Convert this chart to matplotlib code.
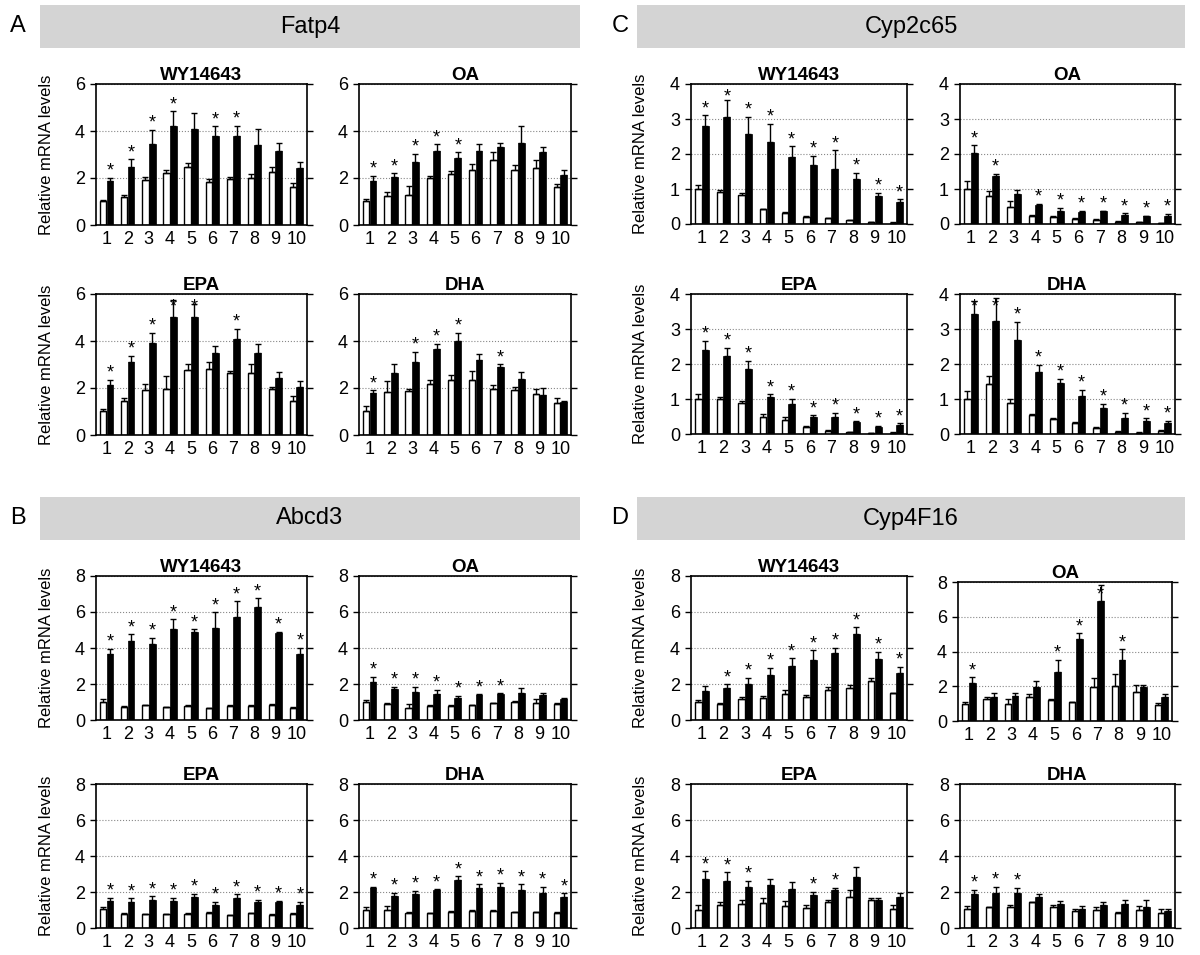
import numpy as np
import matplotlib
matplotlib.use("Agg")
from matplotlib import pyplot as plt
from matplotlib.patches import Rectangle

plt.rcParams['font.family'] = ['Liberation Sans', 'DejaVu Sans']

groups = [str(i) for i in range(1, 11)]
treatments = ["WY14643", "OA", "EPA", "DHA"]

# ---- A: Fatp4 ----
fatp4_wy_white = [1.0, 1.2, 1.9, 2.2, 2.45, 1.85, 1.95, 2.0, 2.25, 1.6]
fatp4_wy_white_err = [0.07, 0.06, 0.13, 0.12, 0.2, 0.12, 0.11, 0.16, 0.2, 0.19]
fatp4_wy_black = [1.87, 2.48, 3.46, 4.2, 4.08, 3.8, 3.77, 3.41, 3.13, 2.42]
fatp4_wy_black_err = [0.15, 0.32, 0.59, 0.64, 0.69, 0.4, 0.45, 0.67, 0.35, 0.25]
fatp4_wy_stars = [1, 2, 3, 4, 6, 7]

fatp4_oa_white = [1.0, 1.24, 1.29, 1.98, 2.19, 2.35, 2.77, 2.35, 2.42, 1.61]
fatp4_oa_white_err = [0.1, 0.15, 0.37, 0.11, 0.11, 0.24, 0.32, 0.21, 0.35, 0.14]
fatp4_oa_black = [1.88, 2.06, 2.67, 3.13, 2.87, 3.17, 3.31, 3.49, 3.1, 2.13]
fatp4_oa_black_err = [0.21, 0.14, 0.35, 0.31, 0.22, 0.27, 0.18, 0.73, 0.21, 0.22]
fatp4_oa_stars = [1, 2, 3, 4, 5]

fatp4_epa_white = [1.01, 1.43, 1.9, 1.97, 2.76, 2.79, 2.63, 2.63, 1.94, 1.43]
fatp4_epa_white_err = [0.08, 0.14, 0.29, 0.54, 0.24, 0.32, 0.11, 0.38, 0.1, 0.24]
fatp4_epa_black = [2.11, 3.09, 3.93, 5.04, 5.01, 3.49, 4.1, 3.49, 2.44, 2.05]
fatp4_epa_black_err = [0.25, 0.28, 0.43, 0.72, 0.56, 0.31, 0.41, 0.4, 0.22, 0.23]
fatp4_epa_stars = [1, 2, 3, 4, 5, 7]

fatp4_dha_white = [1.01, 1.83, 1.86, 2.19, 2.36, 2.36, 1.97, 1.9, 1.73, 1.36]
fatp4_dha_white_err = [0.22, 0.46, 0.11, 0.14, 0.21, 0.35, 0.14, 0.14, 0.21, 0.21]
fatp4_dha_black = [1.79, 2.63, 3.09, 3.64, 4.0, 3.19, 2.9, 2.4, 1.71, 1.4]
fatp4_dha_black_err = [0.11, 0.37, 0.45, 0.25, 0.36, 0.24, 0.1, 0.29, 0.29, 0.04]
fatp4_dha_stars = [1, 3, 4, 5, 7]

# ---- B: Abcd3 ----
abcd3_wy_white = [0.99, 0.72, 0.82, 0.72, 0.78, 0.67, 0.8, 0.8, 0.86, 0.68]
abcd3_wy_white_err = [0.15, 0.06, 0.03, 0.02, 0.03, 0.02, 0.03, 0.03, 0.05, 0.03]
abcd3_wy_black = [3.69, 4.39, 4.24, 5.08, 4.9, 5.1, 5.72, 6.27, 4.81, 3.67]
abcd3_wy_black_err = [0.28, 0.38, 0.32, 0.51, 0.14, 0.89, 0.88, 0.5, 0.09, 0.34]
abcd3_wy_stars = [1, 2, 3, 4, 5, 6, 7, 8, 9, 10]

abcd3_oa_white = [0.99, 0.89, 0.68, 0.78, 0.78, 0.82, 0.93, 0.99, 0.97, 0.91]
abcd3_oa_white_err = [0.11, 0.03, 0.21, 0.08, 0.03, 0.03, 0.03, 0.09, 0.19, 0.03]
abcd3_oa_black = [2.11, 1.73, 1.58, 1.46, 1.24, 1.39, 1.44, 1.52, 1.39, 1.14]
abcd3_oa_black_err = [0.3, 0.13, 0.26, 0.21, 0.11, 0.04, 0.04, 0.25, 0.09, 0.06]
abcd3_oa_stars = [1, 2, 3, 4, 5, 6, 7]

abcd3_epa_white = [1.03, 0.8, 0.76, 0.76, 0.78, 0.84, 0.72, 0.82, 0.74, 0.78]
abcd3_epa_white_err = [0.13, 0.03, 0.03, 0.03, 0.03, 0.04, 0.02, 0.03, 0.03, 0.04]
abcd3_epa_black = [1.49, 1.47, 1.54, 1.5, 1.7, 1.3, 1.64, 1.47, 1.43, 1.26]
abcd3_epa_black_err = [0.19, 0.17, 0.23, 0.18, 0.2, 0.15, 0.23, 0.11, 0.09, 0.19]
abcd3_epa_stars = [1, 2, 3, 4, 5, 6, 7, 8, 9, 10]

abcd3_dha_white = [1.01, 1.01, 0.86, 0.82, 0.91, 0.95, 0.95, 0.88, 0.88, 0.84]
abcd3_dha_white_err = [0.13, 0.19, 0.04, 0.04, 0.04, 0.04, 0.04, 0.03, 0.03, 0.03]
abcd3_dha_black = [2.21, 1.77, 1.87, 2.1, 2.69, 2.25, 2.29, 2.1, 1.96, 1.73]
abcd3_dha_black_err = [0.08, 0.19, 0.19, 0.05, 0.19, 0.19, 0.21, 0.34, 0.33, 0.19]
abcd3_dha_stars = [1, 2, 3, 4, 5, 6, 7, 8, 9, 10]

# ---- C: Cyp2c65 ----
cyp2c65_wy_white = [1.0, 0.9, 0.84, 0.42, 0.3, 0.21, 0.16, 0.1, 0.05, 0.04]
cyp2c65_wy_white_err = [0.1, 0.08, 0.05, 0.02, 0.03, 0.03, 0.02, 0.02, 0.01, 0.01]
cyp2c65_wy_black = [2.8, 3.05, 2.56, 2.33, 1.91, 1.68, 1.58, 1.29, 0.79, 0.63]
cyp2c65_wy_black_err = [0.31, 0.49, 0.5, 0.54, 0.31, 0.27, 0.52, 0.17, 0.1, 0.07]
cyp2c65_wy_stars = [1, 2, 3, 4, 5, 6, 7, 8, 9, 10]

cyp2c65_oa_white = [1.0, 0.81, 0.48, 0.24, 0.19, 0.14, 0.11, 0.07, 0.05, 0.02]
cyp2c65_oa_white_err = [0.22, 0.12, 0.17, 0.03, 0.03, 0.02, 0.02, 0.01, 0.01, 0.01]
cyp2c65_oa_black = [2.03, 1.36, 0.86, 0.53, 0.38, 0.35, 0.36, 0.26, 0.22, 0.22]
cyp2c65_oa_black_err = [0.22, 0.08, 0.1, 0.05, 0.08, 0.02, 0.02, 0.05, 0.02, 0.07]
cyp2c65_oa_stars = [1, 2, 4, 5, 6, 7, 8, 9, 10]

cyp2c65_epa_white = [1.0, 1.0, 0.89, 0.5, 0.39, 0.2, 0.1, 0.05, 0.02, 0.04]
cyp2c65_epa_white_err = [0.15, 0.05, 0.05, 0.08, 0.09, 0.02, 0.01, 0.01, 0.01, 0.01]
cyp2c65_epa_black = [2.4, 2.24, 1.86, 1.05, 0.87, 0.5, 0.48, 0.33, 0.21, 0.26]
cyp2c65_epa_black_err = [0.27, 0.22, 0.24, 0.09, 0.13, 0.04, 0.12, 0.03, 0.03, 0.05]
cyp2c65_epa_stars = [1, 2, 3, 4, 5, 6, 7, 8, 9, 10]

cyp2c65_dha_white = [1.0, 1.44, 0.89, 0.55, 0.42, 0.31, 0.16, 0.07, 0.04, 0.09]
cyp2c65_dha_white_err = [0.24, 0.22, 0.11, 0.03, 0.03, 0.02, 0.05, 0.02, 0.01, 0.03]
cyp2c65_dha_black = [3.43, 3.24, 2.69, 1.78, 1.46, 1.1, 0.74, 0.45, 0.36, 0.31]
cyp2c65_dha_black_err = [0.36, 0.65, 0.51, 0.2, 0.12, 0.17, 0.12, 0.15, 0.09, 0.07]
cyp2c65_dha_stars = [1, 2, 3, 4, 5, 6, 7, 8, 9, 10]

# ---- D: Cyp4F16 ----
cyp4f16_wy_white = [1.0, 0.89, 1.19, 1.23, 1.42, 1.27, 1.66, 1.8, 2.14, 1.49]
cyp4f16_wy_white_err = [0.1, 0.03, 0.08, 0.13, 0.24, 0.11, 0.19, 0.17, 0.22, 0.03]
cyp4f16_wy_black = [1.61, 1.76, 2.02, 2.51, 3.02, 3.35, 3.72, 4.78, 3.4, 2.61]
cyp4f16_wy_black_err = [0.28, 0.22, 0.34, 0.38, 0.42, 0.53, 0.29, 0.36, 0.38, 0.36]
cyp4f16_wy_stars = [2, 3, 4, 5, 6, 7, 8, 9, 10]

cyp4f16_oa_white = [1.0, 1.25, 1.0, 1.41, 1.2, 1.08, 1.96, 2.02, 1.67, 0.94]
cyp4f16_oa_white_err = [0.1, 0.16, 0.29, 0.16, 0.09, 0.03, 0.49, 0.69, 0.39, 0.1]
cyp4f16_oa_black = [2.16, 1.39, 1.43, 1.98, 2.84, 4.71, 6.88, 3.49, 1.96, 1.37]
cyp4f16_oa_black_err = [0.35, 0.22, 0.16, 0.33, 0.69, 0.35, 0.92, 0.63, 0.12, 0.16]
cyp4f16_oa_stars = [1, 5, 6, 7, 8]

cyp4f16_epa_white = [1.01, 1.26, 1.33, 1.39, 1.24, 1.1, 1.45, 1.73, 1.58, 1.05]
cyp4f16_epa_white_err = [0.25, 0.19, 0.25, 0.29, 0.25, 0.2, 0.13, 0.38, 0.1, 0.25]
cyp4f16_epa_black = [2.72, 2.63, 2.3, 2.4, 2.19, 1.81, 2.1, 2.86, 1.54, 1.75]
cyp4f16_epa_black_err = [0.44, 0.47, 0.33, 0.32, 0.34, 0.21, 0.15, 0.53, 0.14, 0.17]
cyp4f16_epa_stars = [1, 2, 3, 6, 7]

cyp4f16_dha_white = [1.05, 1.14, 1.14, 1.43, 1.16, 0.97, 1.01, 0.86, 1.01, 0.86]
cyp4f16_dha_white_err = [0.15, 0.04, 0.16, 0.04, 0.1, 0.1, 0.15, 0.02, 0.19, 0.19]
cyp4f16_dha_black = [1.87, 1.96, 1.96, 1.73, 1.35, 1.05, 1.3, 1.33, 1.16, 0.97]
cyp4f16_dha_black_err = [0.24, 0.34, 0.29, 0.17, 0.14, 0.15, 0.15, 0.25, 0.38, 0.08]
cyp4f16_dha_stars = [1, 2, 3]

W, H = 1200, 955
fig = plt.figure(figsize=(W / 100, H / 100), dpi=100)


def px_axes(l, t, r, b):
    return fig.add_axes([l / W, 1 - b / H, (r - l) / W, (b - t) / H])


def header(letter, name, x0, x1, y0, y1, lx):
    fig.add_artist(Rectangle((x0 / W, 1 - y1 / H), (x1 - x0) / W, (y1 - y0) / H,
                             transform=fig.transFigure, facecolor='#d4d4d4', edgecolor='none'))
    fig.text((x0 + x1) / 2 / W, 1 - (y0 + y1) / 2 / H, name, ha='center', va='center', fontsize=17)
    fig.text(lx / W, 1 - (y0 + y1) / 2 / H, letter, ha='center', va='center', fontsize=17)


def panel(rect, title, white, white_err, black, black_err, stars, ymax, ystep, ylabel):
    ax = px_axes(*rect)
    h_px = rect[3] - rect[1]
    x = np.arange(1, 11)
    ax.bar(x - 0.16, white, 0.3, color='white', edgecolor='black', linewidth=1, zorder=2)
    ax.bar(x + 0.16, black, 0.32, color='black', edgecolor='black', linewidth=0.5, zorder=2)
    ax.errorbar(x - 0.16, white, yerr=[np.zeros(10), white_err], fmt='none',
                ecolor='black', elinewidth=1, capsize=2, capthick=1, zorder=3)
    ax.errorbar(x + 0.16, black, yerr=[np.zeros(10), black_err], fmt='none',
                ecolor='black', elinewidth=1, capsize=2, capthick=1, zorder=3)
    # stars sit above the error bar, but are squeezed under the top spine
    star_max = ymax - 17.0 / h_px * ymax
    for s in stars:
        top = black[s - 1] + black_err[s - 1]
        if top + 2.0 / h_px * ymax > star_max:
            ax.text(s + 0.16, star_max, '*', ha='center', va='baseline', fontsize=13, zorder=4)
        else:
            ax.annotate('*', (s + 0.16, top), xytext=(0, 1.5), textcoords='offset points',
                        ha='center', va='baseline', fontsize=13, annotation_clip=False)
    ax.set_xlim(0.5, 10.5)
    ax.set_ylim(0, ymax)
    ax.set_yticks(np.arange(0, ymax + 0.01, ystep))
    ax.set_yticklabels([str(int(v)) for v in np.arange(0, ymax + 0.01, ystep)])
    ax.set_xticks(x)
    ax.set_xticklabels(groups)
    ax.yaxis.grid(True, linestyle=':', color='#888888', linewidth=0.8)
    ax.set_axisbelow(True)
    ax.tick_params(axis='y', direction='out', length=4, width=1, right=True, labelsize=13, pad=4)
    ax.tick_params(axis='x', length=0, labelsize=13, pad=4)
    for sp in ax.spines.values():
        sp.set_linewidth(1.2)
    ax.set_title(title, fontweight='bold', fontsize=13.5, pad=3)
    if ylabel:
        ax.set_ylabel('Relative mRNA levels', fontsize=12)
        ax.yaxis.set_label_coords(-0.2, 0.5)
    return ax


header('A', 'Fatp4', 40, 580, 5, 48, 18)
header('C', 'Cyp2c65', 637, 1185, 5, 48, 620)
header('B', 'Abcd3', 40, 580, 497, 540, 18)
header('D', 'Cyp4F16', 637, 1185, 497, 540, 620)

# A
panel((96, 84, 307, 225), treatments[0], fatp4_wy_white, fatp4_wy_white_err, fatp4_wy_black, fatp4_wy_black_err, fatp4_wy_stars, 6, 2, True)
panel((359, 84, 571, 225), treatments[1], fatp4_oa_white, fatp4_oa_white_err, fatp4_oa_black, fatp4_oa_black_err, fatp4_oa_stars, 6, 2, False)
panel((96, 294, 307, 435), treatments[2], fatp4_epa_white, fatp4_epa_white_err, fatp4_epa_black, fatp4_epa_black_err, fatp4_epa_stars, 6, 2, True)
panel((359, 294, 571, 435), treatments[3], fatp4_dha_white, fatp4_dha_white_err, fatp4_dha_black, fatp4_dha_black_err, fatp4_dha_stars, 6, 2, False)

# C
panel((691, 84, 907, 224), treatments[0], cyp2c65_wy_white, cyp2c65_wy_white_err, cyp2c65_wy_black, cyp2c65_wy_black_err, cyp2c65_wy_stars, 4, 1, True)
panel((960, 84, 1175, 224), treatments[1], cyp2c65_oa_white, cyp2c65_oa_white_err, cyp2c65_oa_black, cyp2c65_oa_black_err, cyp2c65_oa_stars, 4, 1, False)
panel((691, 294, 907, 434), treatments[2], cyp2c65_epa_white, cyp2c65_epa_white_err, cyp2c65_epa_black, cyp2c65_epa_black_err, cyp2c65_epa_stars, 4, 1, True)
panel((960, 294, 1175, 434), treatments[3], cyp2c65_dha_white, cyp2c65_dha_white_err, cyp2c65_dha_black, cyp2c65_dha_black_err, cyp2c65_dha_stars, 4, 1, False)

# B
panel((96, 576, 307, 720), treatments[0], abcd3_wy_white, abcd3_wy_white_err, abcd3_wy_black, abcd3_wy_black_err, abcd3_wy_stars, 8, 2, True)
panel((359, 576, 571, 720), treatments[1], abcd3_oa_white, abcd3_oa_white_err, abcd3_oa_black, abcd3_oa_black_err, abcd3_oa_stars, 8, 2, False)
panel((96, 784, 307, 928), treatments[2], abcd3_epa_white, abcd3_epa_white_err, abcd3_epa_black, abcd3_epa_black_err, abcd3_epa_stars, 8, 2, True)
panel((359, 784, 571, 928), treatments[3], abcd3_dha_white, abcd3_dha_white_err, abcd3_dha_black, abcd3_dha_black_err, abcd3_dha_stars, 8, 2, False)

# D
panel((691, 576, 907, 720), treatments[0], cyp4f16_wy_white, cyp4f16_wy_white_err, cyp4f16_wy_black, cyp4f16_wy_black_err, cyp4f16_wy_stars, 8, 2, True)
panel((958, 582, 1172, 721), treatments[1], cyp4f16_oa_white, cyp4f16_oa_white_err, cyp4f16_oa_black, cyp4f16_oa_black_err, cyp4f16_oa_stars, 8, 2, False)
panel((691, 784, 907, 928), treatments[2], cyp4f16_epa_white, cyp4f16_epa_white_err, cyp4f16_epa_black, cyp4f16_epa_black_err, cyp4f16_epa_stars, 8, 2, True)
panel((960, 784, 1175, 928), treatments[3], cyp4f16_dha_white, cyp4f16_dha_white_err, cyp4f16_dha_black, cyp4f16_dha_black_err, cyp4f16_dha_stars, 8, 2, False)

fig.savefig("out.png", dpi=100, facecolor='white')
